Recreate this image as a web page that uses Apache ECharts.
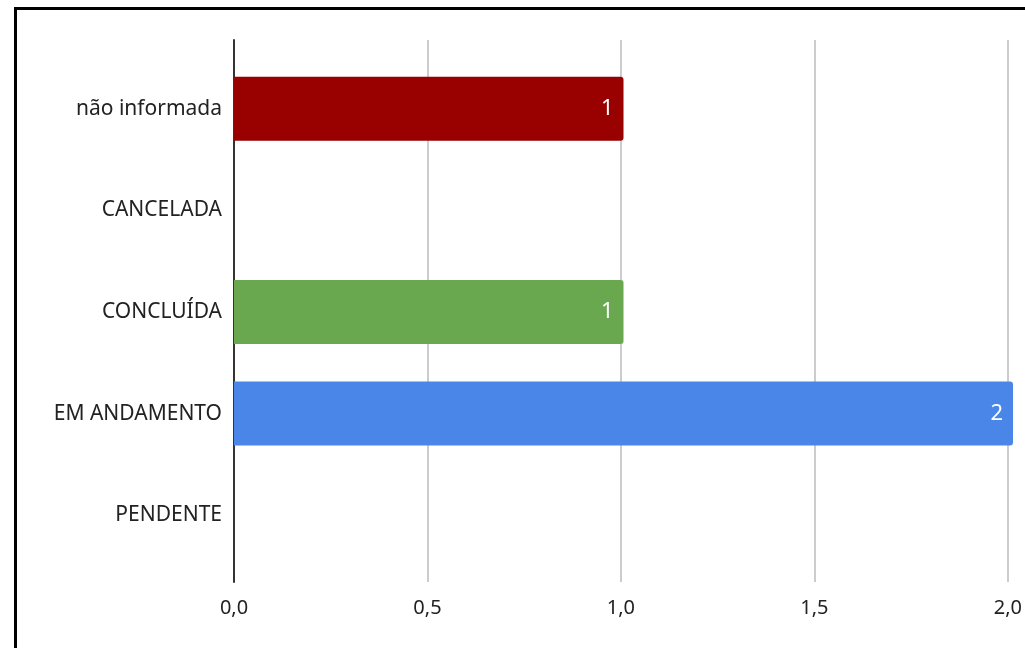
<!DOCTYPE html>
<html><head><meta charset="utf-8">
<script src="https://cdn.jsdelivr.net/npm/echarts@6/dist/echarts.min.js"></script>
<style>html,body{margin:0;padding:0;background:#fff;}#c{width:1025px;height:648px;}</style>
</head><body><div id="c"></div>
<script>
const categories = ['não informada', 'CANCELADA', 'CONCLUÍDA', 'EM ANDAMENTO', 'PENDENTE'];
const values = [1, null, 1, 2, null];
const barColors = ['#990000', '#cc0000', '#6aa84f', '#4a86e8', '#f1c232'];
const xTicks = ['0,0', '0,5', '1,0', '1,5', '2,0'];

const font = 'Noto Sans';
const chart = echarts.init(document.getElementById('c'), null, {renderer: 'canvas'});
const catRev = categories.slice().reverse();
const valRev = values.slice().reverse();
const colRev = barColors.slice().reverse();

chart.setOption({
  animation: false,
  backgroundColor: '#fff',
  graphic: [{
    type: 'rect', shape: {x: 15.5, y: 8.5, width: 1100, height: 700},
    style: {fill: 'none', stroke: '#000', lineWidth: 3}, z: 100
  }],
  grid: [
    {left: 234, right: 12, top: 40, bottom: 66},
    {left: 234, right: 12, top: 58, bottom: 82}
  ],
  xAxis: [
    {
      type: 'value', gridIndex: 0, min: 0, max: 2, interval: 0.5,
      axisLine: {show: false}, axisTick: {show: false},
      splitLine: {lineStyle: {color: '#cccccc', width: 2}},
      axisLabel: {
        margin: 16, color: '#222', fontFamily: font, fontSize: 20,
        formatter: function (v) { return xTicks[Math.round(v / 0.5)]; }
      }
    },
    {
      type: 'value', gridIndex: 1, min: 0, max: 2, interval: 0.5, show: false
    }
  ],
  yAxis: [
    {
      type: 'category', gridIndex: 0, data: [''], show: true,
      axisLine: {show: true, lineStyle: {color: '#333', width: 2}},
      axisTick: {show: false}, axisLabel: {show: false}, splitLine: {show: false}
    },
    {
      type: 'category', gridIndex: 1, data: catRev,
      axisLine: {show: false}, axisTick: {show: false},
      axisLabel: {margin: 12, color: '#222', fontFamily: font, fontSize: 21}
    }
  ],
  series: [{
    type: 'bar', xAxisIndex: 1, yAxisIndex: 1, barWidth: 64,
    data: valRev.map((v, i) => ({value: v, itemStyle: {color: colRev[i]}})),
    itemStyle: {borderRadius: [0, 3, 3, 0]},
    label: {
      show: true, position: 'insideRight', distance: 10, color: '#fff',
      fontFamily: font, fontSize: 22
    }
  }]
});
</script></body></html>
